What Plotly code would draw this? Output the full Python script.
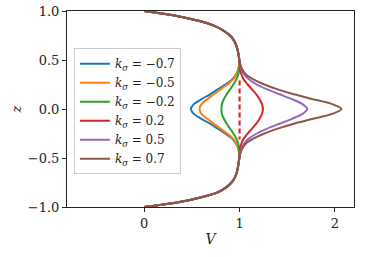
import plotly.graph_objects as go

# ---- data ----
LABELS = ["<i>k</i><sub><i>σ</i></sub> = −0.7", "<i>k</i><sub><i>σ</i></sub> = −0.5",
          "<i>k</i><sub><i>σ</i></sub> = −0.2", "<i>k</i><sub><i>σ</i></sub> = 0.2",
          "<i>k</i><sub><i>σ</i></sub> = 0.5", "<i>k</i><sub><i>σ</i></sub> = 0.7"]
COLORS = ["#1f77b4", "#ff7f0e", "#2ca02c", "#d62728", "#9467bd", "#8c564b"]

Z_TOP = [1.0, 0.975, 0.95, 0.9, 0.85, 0.8, 0.75, 0.7, 0.65, 0.6, 0.55, 0.5]
V_TOP = [0.0, 0.18, 0.34, 0.57, 0.73, 0.83, 0.90, 0.94, 0.965, 0.98, 0.99, 0.997]
Z_INNER = [0.45, 0.4, 0.35, 0.3, 0.25, 0.2, 0.15, 0.1, 0.05, 0.0,
           -0.05, -0.1, -0.15, -0.2, -0.25, -0.3, -0.35, -0.4, -0.45]
Z_BOT = [-0.5, -0.55, -0.6, -0.65, -0.7, -0.75, -0.8, -0.85, -0.9, -0.95, -0.975, -1.0]
V_BOT = [0.997, 0.99, 0.982, 0.97, 0.95, 0.915, 0.86, 0.77, 0.60, 0.37, 0.20, 0.0]

V_K_M07 = [0.995, 0.985, 0.96, 0.92, 0.85, 0.77, 0.69, 0.60, 0.52, 0.49,
           0.52, 0.60, 0.69, 0.77, 0.85, 0.92, 0.96, 0.985, 0.995]
V_K_M05 = [0.995, 0.985, 0.965, 0.93, 0.87, 0.80, 0.73, 0.66, 0.60, 0.58,
           0.60, 0.66, 0.73, 0.80, 0.87, 0.93, 0.965, 0.985, 0.995]
V_K_M02 = [1.0, 0.995, 0.985, 0.965, 0.935, 0.90, 0.865, 0.835, 0.815, 0.81,
           0.815, 0.835, 0.865, 0.90, 0.935, 0.965, 0.985, 0.995, 1.0]
V_K_P02 = [1.0, 1.005, 1.02, 1.045, 1.085, 1.13, 1.175, 1.21, 1.235, 1.245,
           1.235, 1.21, 1.175, 1.13, 1.085, 1.045, 1.02, 1.005, 1.0]
V_K_P05 = [1.005, 1.02, 1.05, 1.10, 1.18, 1.29, 1.42, 1.55, 1.66, 1.71,
           1.66, 1.55, 1.42, 1.29, 1.18, 1.10, 1.05, 1.02, 1.005]
V_K_P07 = [1.01, 1.03, 1.07, 1.15, 1.26, 1.40, 1.57, 1.77, 1.97, 2.07,
           1.97, 1.77, 1.57, 1.40, 1.26, 1.15, 1.07, 1.03, 1.01]
INNER = [V_K_M07, V_K_M05, V_K_M02, V_K_P02, V_K_P05, V_K_P07]

Z_DASH = [0.29, -0.31]
V_DASH = [1.0, 1.0]

X_TICKS = [0, 1, 2]
Y_TICKS = [-1.0, -0.5, 0.0, 0.5, 1.0]
Y_TICKTEXT = ["−1.0", "−0.5", "0.0", "0.5", "1.0"]

fig = go.Figure()
fig.add_trace(go.Scatter(x=V_DASH, y=Z_DASH, mode="lines", showlegend=False,
                         line=dict(color=COLORS[3], width=2.2, dash="5px,3px")))
for lab, col, inner in zip(LABELS, COLORS, INNER):
    fig.add_trace(go.Scatter(
        x=V_TOP + inner + V_BOT, y=Z_TOP + Z_INNER + Z_BOT,
        mode="lines", name=lab,
        line=dict(color=col, width=2, shape="spline", smoothing=0.8)))

font = "DejaVu Serif"
axis_common = dict(showline=True, linecolor="#222222", linewidth=1, mirror=True,
                   ticks="outside", ticklen=4, tickcolor="#222222", showgrid=False,
                   zeroline=False, automargin=False,
                   tickfont=dict(family=font, size=13, color="#222222"))
fig.update_layout(
    width=384, height=257,
    margin=dict(l=67, r=30, t=10.7, b=50.3, pad=0),
    plot_bgcolor="white", paper_bgcolor="white",
    xaxis=dict(range=[-0.81, 2.2], tickvals=X_TICKS, ticktext=[str(t) for t in X_TICKS],
               title=dict(text="<i>V</i>", font=dict(family=font, size=14, color="#222222"),
                          standoff=4), **axis_common),
    yaxis=dict(range=[-1, 1], tickvals=Y_TICKS, ticktext=Y_TICKTEXT,
               title=dict(text="<i>z</i>", font=dict(family=font, size=13, color="#222222"),
                          standoff=3), **axis_common),
    legend=dict(x=0.024, y=0.81, xanchor="left", yanchor="top",
                bgcolor="rgba(255,255,255,0.85)", bordercolor="#cccccc", borderwidth=1,
                font=dict(family=font, size=12, color="#222222"),
                tracegroupgap=0, itemwidth=30),
    showlegend=True,
)
fig.write_html("out.html", config={"displayModeBar": False},
               post_script="document.body.style.margin='0px';")
